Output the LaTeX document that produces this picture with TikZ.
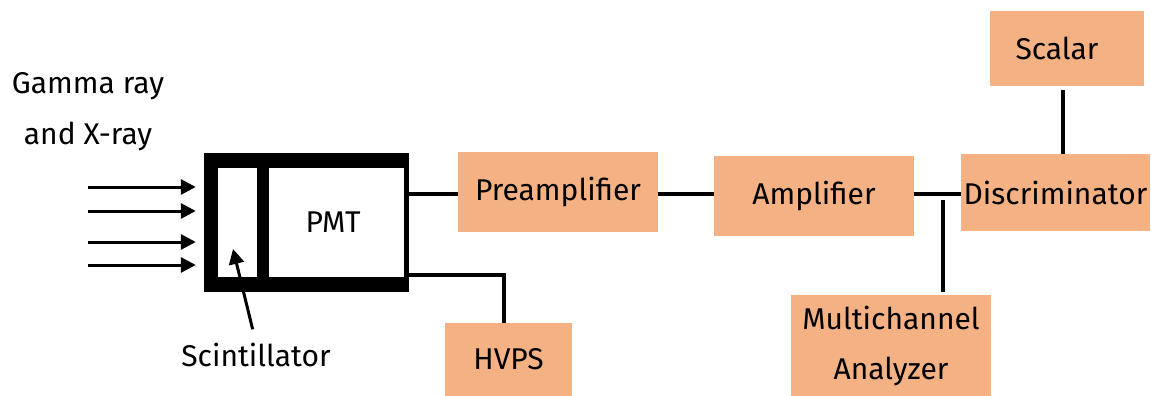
\documentclass[tikz,border=0pt]{standalone}
\usepackage{fontspec}
\setmainfont{Fira Sans}
\usepackage{xcolor}
\usetikzlibrary{arrows.meta,positioning,calc}

\definecolor{boxorange}{HTML}{F4B183}

\begin{document}
\begin{tikzpicture}[
        x=1pt, y=-1pt,
        font=\fontsize{30}{36}\selectfont,
        block/.style={
            fill=boxorange,
            align=center,
            inner sep=0pt
        },
        label/.style={
            align=center,
            inner sep=0pt
        },
        wire/.style={line width=4pt},
        ray/.style={-{Triangle[length=15pt,width=15pt]}, line width=3pt}
    ]

    \useasboundingbox (0,0) rectangle (1151,396);

    % detector head
    \node[fill=black, minimum width=205pt, minimum height=139pt, inner sep=0pt] (pmt) at (306.5,222.5) {};
    \node[fill=white, minimum width=39pt, minimum height=109pt, inner sep=0pt] (scint) at (237.5,222.5) {};
    \node[fill=white, minimum width=135pt, minimum height=109pt, inner sep=0pt] (tube) at (336.5,222.5) {};
    \node[label] at (333,222) {PMT};

    \node[label] (gamma) at (88,86) {Gamma ray};
    \node[label] (xray) at (88,136) {and X-ray};
    \node[label] (scintlabel) at (256,355) {Scintillator};

    % electronics
    \node[block, minimum width=200pt, minimum height=80pt] (preamp) at (558,192) {Preamplifier};
    \node[block, minimum width=200pt, minimum height=80pt] (amp) at (814,196) {Amplifier};
    \node[block, minimum width=189pt, minimum height=77pt] (disc) at (1055.5,192.5) {Discriminator};
    \node[block, minimum width=154pt, minimum height=75pt] (scalar) at (1067,48.5) {\hspace*{-20pt}Scalar};
    \node[block, minimum width=200pt, minimum height=101pt, font=\fontsize{30}{50}\selectfont] (mca) at (891,345.5) {Multichannel\\Analyzer};
    \node[block, minimum width=127pt, minimum height=73pt] (hvps) at (508.5,359.5) {HVPS};

    \coordinate (tap) at (943,194);
    \coordinate (scinttip) at (233,249);

    \foreach \y in {187,211,242,265}
        \draw[ray] (88,\y) -- ([xshift=-8pt]pmt.west |- 0,\y);
    \draw[ray, shorten <=14pt] (scintlabel.north) -- (scinttip);

    \draw[wire] (pmt.east |- 0,194) -- (preamp.west |- 0,194);
    \draw[wire] (preamp.east |- 0,194) -- (amp.west |- 0,194);
    \draw[wire] (amp.east |- 0,194) -- (disc.west |- 0,194);
    \draw[wire, shorten <=6pt, shorten >=3pt] (tap) -- (tap |- mca.north);
    \draw[wire, shorten <=4pt] ([xshift=-4pt]scalar.south) -- ([xshift=-4pt]scalar.south |- disc.north);
    \draw[wire] (pmt.east |- 0,275) -| ([xshift=-5pt]hvps.north);

\end{tikzpicture}
\end{document}
